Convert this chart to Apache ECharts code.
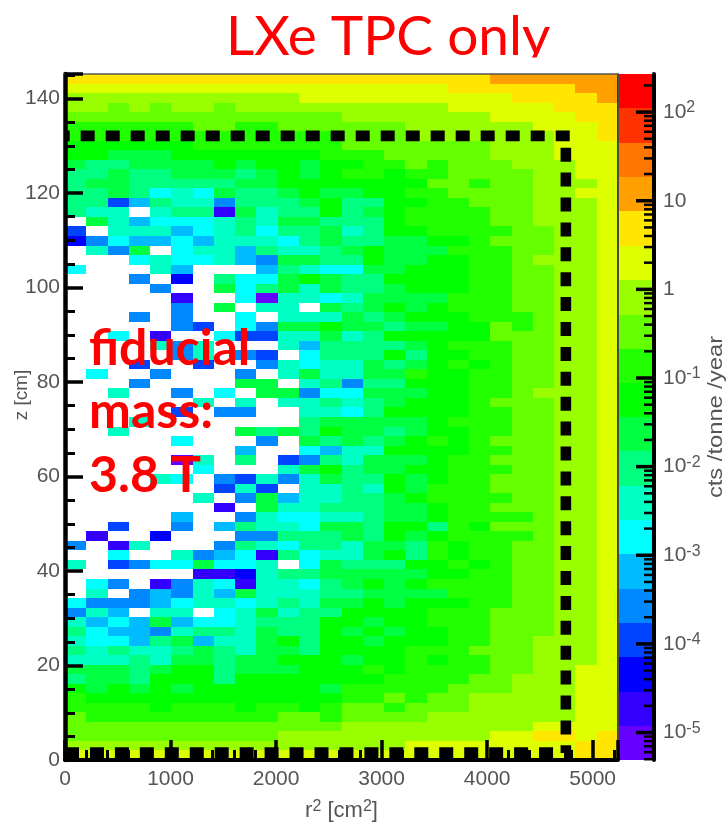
<!DOCTYPE html>
<html>
<head>
<meta charset="utf-8">
<style>html,body{margin:0;padding:0;background:#fff}#c{width:727px;height:822px}</style>
<script src="https://cdn.jsdelivr.net/npm/echarts@6/dist/echarts.min.js"></script>
</head>
<body>
<div id="c"></div>
<script>
// Colour-bin index of each cell, top row first, left column first. "." = empty cell.
var cellLevelRows = [
"gggggggggggggggggggghhhhhh",
"ffffffffffffffffffgggggghh",
"eeeeeeeeeeeffffffffffggggh",
"eededeedeeeeeeeeeefffffggg",
"dddddddddddddeeeeeeeffffgg",
"ccccccddccdddddd"+"eeeeeefffg",
"cccccccccccccddd"+"eeeeeeeffg",
"bbbbbbccccccc"+"ddddddd"+"eee"+"fff",
"bbaaabbbbbbbc"+"ccddddd"+"eee"+"fff",
"a99aaaababbab"+"bccdcdddeeeff",
"99a99aaa9abab"+"ccbccddddeeff",
"9aa99999aabbb"+"bbbbddcddeeef",
"99a9787a99aba"+"abbccddddeeff",
"99469885999ab"+"99bbccdddeeef",
"988.8992a899b"+"9abccccddeeef",
".a86777898aa9"+"99bccccddeeef",
"4.8886789799a"+"89bbccccddeef",
"3576676888"+"79a"+"99aabbcdddeef",
".85a.78869889"+"abaaacccddeef",
"...7877865aa9"+"9baabbccdeeef",
"7...86...6987"+"7aabbbccddeef",
"...5.3.977aba"+"99bbbbccddeef",
"....5..a79a8a"+"99abbbccddeef",
".....2..71887"+"8aaaacccddeef",
".....5.a.88.a"+"9ababcccddeef",
"...5.5..7.888"+"a9abbbcccdeef",
".....54.75aab"+"aa9aabbdcdeef",
"..7.2..74488a"+"89bbbbbdddeef",
"....858...869"+"999abcccddeef",
".....58.54.79"+"99b9bbccddeef",
"...4..4..5878"+"8a9abcbcddeef",
".7..5...5.8a8"+"8aacbbccddeef",
"...5....aa.89"+"599bbbccddeef",
"..8..5.7.aa57"+"7aaabbccdeeef",
"......8.8.889"+"89abbbcdddeef",
".....4.55..88"+"79bbbbccddeef",
"...8.......9a"+"aaaabcccddeef",
"..8.....a9a9b"+"aa9abbccddeef",
".....7...5.a9"+"a9abcbcdddeef",
"........6..76"+"88bbbbccddeef",
".....18.9.459"+"8aaabccdddeef",
"......7...8ab"+"9aabbcccddeef",
"....87.54858a"+"99babccdddeef",
".......484.88"+"98bacccdddeef",
"......8.5a688"+"99abccccddeef",
".......2.a889"+"99aabccdddeef",
".....6..58778"+"89aabccccdeef",
"..4..5.69887a"+"a9bb9cbdddeef",
".2..3...55999"+"a9babccccdeef",
"5.28...598799"+"8aa9cbccddeef",
"..7..85672978"+"8ab9cbccddeef",
"8.4577a778.7a"+"999bbcbcddeef",
"......223899a"+"aaaabbccddeef",
".75.258728879"+"ababccccddeef",
".8.56586a8889"+"9aaaacccddeef",
"755567887898a"+"ababbbccddeef",
"586.88.78a899"+"bbbbcccdddeef",
"8676a6778999b"+"babbcccdddeef",
"976658998a99b"+"ababbccdddeef",
"87769a688ab9b"+"babbbccddeeef",
"989889a98aa9b"+"bbbcccdddeeef",
"88898aa9aabbb"+"abbcbccddeeef",
"aaa9abb9aaabb"+"bcbccccddeeff",
"9aa9bbb9bbbbb"+"bbccccddeeeff",
"babababbbbbba"+"cccccdddeeeff",
"cbbbbbbbbbbbb"+"ccdcddeeeeeff",
"ccccbcccbccbc"+"ddcdddeeeeeff",
"dcccccccccddc"+"ddddeeeeeeeff",
"ddddddddddddd"+"eeeeeeeeeffff",
"ddddddddddeee"+"eeeeeeeffggfg",
"eeeeeeeeeeeee"+"eeeffffffffgg",
"fffffffffffff"+"fffffffffffgg"
];
var levelKeys = "123456789abcdefghijk";
var levelColors = ["#6600ff","#3300ff","#0000ff","#0044ff","#0088ff","#00bbff","#00ffff","#00ffc4","#00ff80","#00ff40","#00ff00","#22ff00","#66ff00","#99ff00","#ddff00","#ffe600","#ff9f00","#ff7700","#ff3300","#ff0000"];
var colorBandEdges = [4.9e-6,1.2e-5,2.9e-5,7.1e-5,1.73e-4,4.2e-4,1.03e-3,2.5e-3,6.1e-3,1.5e-2,3.6e-2,8.8e-2,0.215,0.52,1.27,3.1,7.6,18.5,45,110,269];
var colorDecades = [1e-6,1e-5,1e-4,1e-3,1e-2,1e-1,1,10,100];
var minorMultipliers = [2,3,4,5,6,7,8,9];
var xTickMax = 5240, zTickMax = 145.2;
var fiducialTop = [[0,132.1],[4795,132.1]];
var fiducialSide = [[4746,129.6],[4746,1.5]];
var fiducialBottom = [[0,1.57],[4795,1.57]];

var nRows = cellLevelRows.length, nCols = 26;
var xBin = xTickMax / nCols, zBin = zTickMax / nRows;
var cells = [];
cellLevelRows.forEach(function (row, t) {
  for (var c = 0; c < nCols; c++) {
    var lev = levelKeys.indexOf(row.charAt(c));
    if (lev < 0) continue;
    var r = nRows - 1 - t;
    cells.push([c * xBin, (c + 1) * xBin, r * zBin, (r + 1) * zBin, lev]);
  }
});
var bands = levelColors.map(function (col, i) { return [colorBandEdges[i], colorBandEdges[i + 1], i]; });

var GRAY = "#555";
var FONT = "Liberation Sans";
function supLabel(v) {
  var e = Math.round(Math.log10(v));
  if (e === 0) return "1";
  if (e === 1) return "10";
  return "10{sup|" + e + "}";
}
var supRich = { sup: { fontSize: 16, color: GRAY, fontFamily: FONT, verticalAlign: "top", padding: [0, 0, 8, 0] } };
function fidSeries(data, offset, period) {
  return {
    type: "line", xAxisIndex: 0, yAxisIndex: 0, data: data, symbol: "none", silent: true, clip: false, z: 5,
    lineStyle: { color: "#000", width: 10.6, type: [14, period - 14], dashOffset: offset, cap: "butt" }
  };
}
var plain = function (v) { return String(v); };
var textGraphics = [
  { type: "text", z: 1, x: 226, y: 65, style: { text: "LXe TPC only", fill: "#ff0000", font: "55px Lato", verticalAlign: "bottom" } },
  { type: "rect", z: 2, shape: { x: 0, y: 57.5, width: 727, height: 15 }, style: { fill: "#fff" } },
  { type: "text", z: 20, x: 89, y: 324, style: { text: "fiducial", fill: "#ff0000", font: "bold 50px Lato" } },
  { type: "text", z: 20, x: 89, y: 387, style: { text: "mass:", fill: "#ff0000", font: "bold 50px Lato" } },
  { type: "text", z: 20, x: 89, y: 451, style: { text: "3.8 T", fill: "#ff0000", font: "bold 50px Lato" } },
  { type: "text", z: 20, x: 22, y: 395, rotation: Math.PI / 2, style: { text: "z [cm]", fill: GRAY, font: "19px Liberation Sans", align: "center", verticalAlign: "middle" } },
  { type: "text", z: 20, x: 716, y: 417, rotation: Math.PI / 2, scaleX: 1.13, style: { text: "cts /tonne /year", fill: GRAY, font: "21px Liberation Sans", align: "center", verticalAlign: "middle" } }
];

var chart = echarts.init(document.getElementById("c"), null, { renderer: "canvas" });
chart.setOption({
  animation: false,
  backgroundColor: "#fff",
  grid: [
    { left: 65, top: 74, width: 553, height: 686, outerBoundsMode: "none" },
    { left: 619, top: 74, width: 35, height: 686, outerBoundsMode: "none" }
  ],
  xAxis: [
    { type: "value", gridIndex: 0, min: 0, max: xTickMax, interval: 1000, position: "bottom", z: 10,
      axisLine: { show: true, onZero: false, lineStyle: { color: "#000", width: 4 } },
      axisTick: { show: true, inside: true, length: 20, lineStyle: { color: "#000", width: 3.5 } },
      minorTick: { show: true, splitNumber: 5, length: 10, lineStyle: { color: "#000", width: 3 } },
      splitLine: { show: false }, minorSplitLine: { show: false },
      axisLabel: { color: GRAY, fontSize: 21, fontFamily: FONT, margin: 9, showMaxLabel: false, formatter: plain },
      name: "r{sup|2} [cm{sup|2}]", nameLocation: "middle", nameGap: 39,
      nameTextStyle: { color: GRAY, fontSize: 22, fontFamily: FONT, rich: { sup: supRich.sup } } },
    { type: "value", gridIndex: 0, min: 0, max: xTickMax, position: "top", z: 10,
      axisLine: { show: true, onZero: false, lineStyle: { color: "#555", width: 1.5 } },
      axisTick: { show: false }, axisLabel: { show: false }, splitLine: { show: false } },
    { type: "value", gridIndex: 1, min: 0, max: 1, show: false, axisLine: { onZero: false } }
  ],
  yAxis: [
    { type: "value", gridIndex: 0, min: 0, max: zTickMax, interval: 20, position: "left", z: 10,
      axisLine: { show: true, onZero: false, lineStyle: { color: "#000", width: 4.5 } },
      axisTick: { show: true, inside: true, length: 18, lineStyle: { color: "#000", width: 3.5 } },
      minorTick: { show: true, splitNumber: 4, length: 10, lineStyle: { color: "#000", width: 3 } },
      splitLine: { show: false }, minorSplitLine: { show: false },
      axisLabel: { color: GRAY, fontSize: 21, fontFamily: FONT, margin: 5, showMaxLabel: false, formatter: plain } },
    { type: "value", gridIndex: 0, min: 0, max: zTickMax, position: "right", z: 10,
      axisLine: { show: true, onZero: false, lineStyle: { color: "#111", width: 1.5 } },
      axisTick: { show: false }, axisLabel: { show: false }, splitLine: { show: false } },
    { type: "log", logBase: 10, gridIndex: 1, min: colorBandEdges[0], max: colorBandEdges[20], position: "right", z: 10,
      axisLine: { show: true, onZero: false, lineStyle: { color: "#000", width: 4 } },
      axisTick: { show: false },
      splitLine: { show: false },
      axisLabel: { color: GRAY, fontSize: 21, fontFamily: FONT, margin: 9, align: "left", showMinLabel: false, showMaxLabel: false,
        formatter: supLabel, rich: supRich } }
  ],
  series: [
    { type: "custom", xAxisIndex: 0, yAxisIndex: 0, data: cells, silent: true, z: 2,
      encode: { x: [0, 1], y: [2, 3] },
      renderItem: function (p, api) {
        var a = api.coord([api.value(0), api.value(3)]);
        var b = api.coord([api.value(1), api.value(2)]);
        var x0 = Math.round(a[0]), y0 = Math.round(a[1]), x1 = Math.round(b[0]), y1 = Math.round(b[1]);
        return { type: "rect", shape: { x: x0, y: y0, width: x1 - x0, height: y1 - y0 },
                 style: { fill: levelColors[api.value(4)] } };
      } },
    fidSeries(fiducialTop, 9.3, 25),
    fidSeries(fiducialSide, 0, 24.9),
    fidSeries(fiducialBottom, 0, 24.95),
    { type: "custom", xAxisIndex: 2, yAxisIndex: 2, data: bands, silent: true, z: 2,
      encode: { y: [0, 1] },
      renderItem: function (p, api) {
        var a = api.coord([0, api.value(1)]);
        var b = api.coord([1, api.value(0)]);
        var y0 = Math.round(a[1]), y1 = Math.round(b[1]);
        return { type: "rect", shape: { x: a[0], y: y0, width: b[0] - a[0], height: y1 - y0 },
                 style: { fill: levelColors[api.value(2)] } };
      } }
  ],
  graphic: textGraphics
});

// Colour-scale ticks, placed through the log axis.
var barRight = 654, barTop = 74, barHeight = 686;
var scaleTicks = [];
function scaleY(v) {
  var y = chart.convertToPixel({ yAxisIndex: 2 }, v);
  if (Array.isArray(y)) y = y[1];
  if (typeof y === "number" && isFinite(y)) return y;
  var lo = Math.log10(colorBandEdges[0]), hi = Math.log10(colorBandEdges[20]);
  return barTop + barHeight * (hi - Math.log10(v)) / (hi - lo);
}
function addScaleTick(v, len, thick) {
  if (v <= colorBandEdges[0] || v >= colorBandEdges[20]) return;
  var y = scaleY(v);
  scaleTicks.push({ type: "rect", z: 25, shape: { x: barRight - len, y: y - thick / 2, width: len, height: thick }, style: { fill: "#000" } });
}
colorDecades.forEach(function (d) {
  addScaleTick(d, 18, 3.5);
  minorMultipliers.forEach(function (m) { addScaleTick(d * m, 10, 2.5); });
});
chart.setOption({ graphic: { elements: textGraphics.concat(scaleTicks) } });
</script>
</body>
</html>
